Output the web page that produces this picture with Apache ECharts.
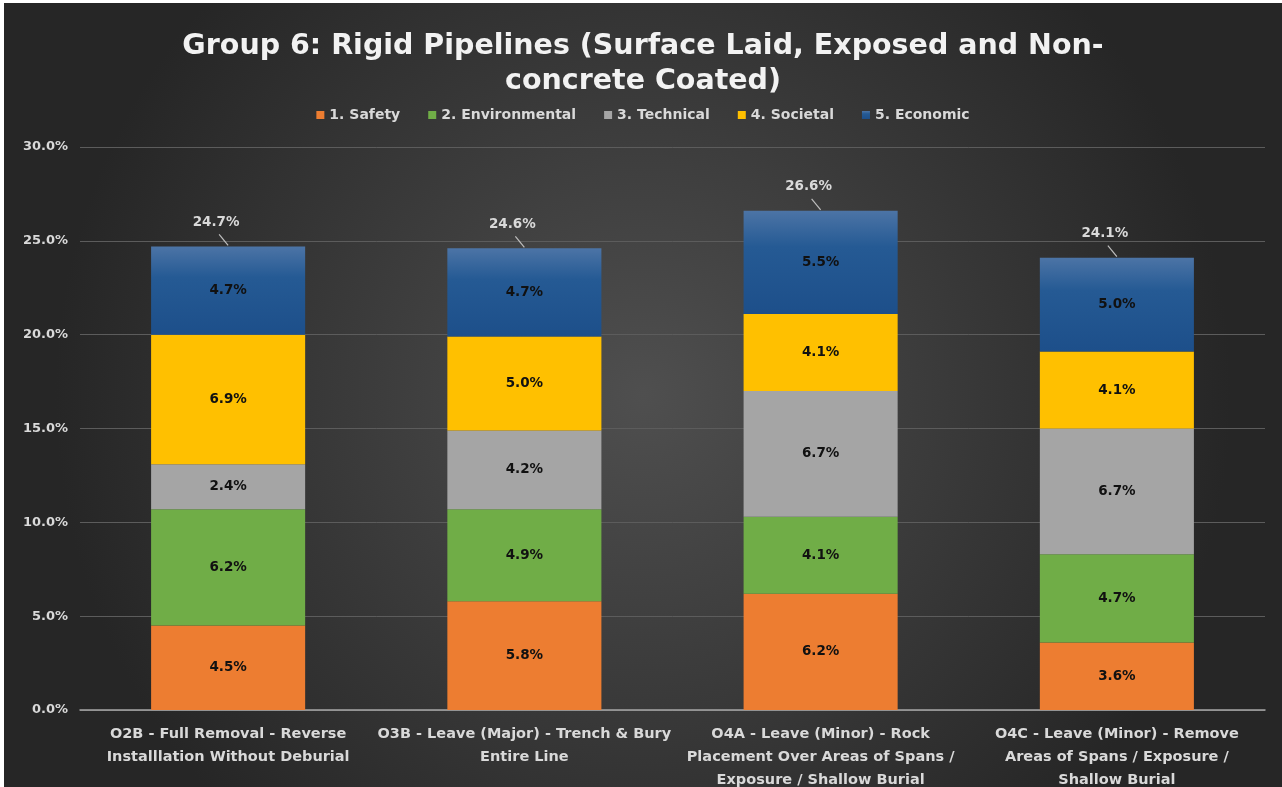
<!DOCTYPE html>
<html>
<head>
<meta charset="utf-8">
<script src="https://cdn.jsdelivr.net/npm/echarts@6/dist/echarts.min.js"></script>
<style>
  html, body { margin: 0; padding: 0; background: #ffffff; }
  #chart { position: absolute; left: 4px; top: 3px; width: 1278px; height: 784px; }
</style>
</head>
<body>
<div id="chart"></div>
<script>
// Options shown on the x axis (line breaks as laid out under each bar)
const categories = [
  'O2B - Full Removal - Reverse\nInstalllation Without Deburial',
  'O3B - Leave (Major) - Trench & Bury\nEntire Line',
  'O4A - Leave (Minor) - Rock\nPlacement Over Areas of Spans /\nExposure / Shallow Burial',
  'O4C - Leave (Minor) - Remove\nAreas of Spans / Exposure /\nShallow Burial'
];

// Weighted scores per criterion (%)
const safety        = [4.5, 5.8, 6.2, 3.6];
const environmental = [6.2, 4.9, 4.1, 4.7];
const technical     = [2.4, 4.2, 6.7, 6.7];
const societal      = [6.9, 5.0, 4.1, 4.1];
const economic      = [4.7, 4.7, 5.5, 5.0];

const seriesNames = ['1. Safety', '2. Environmental', '3. Technical', '4. Societal', '5. Economic'];
const yTicks = [0, 5, 10, 15, 20, 25, 30];

const FONT = 'DejaVu Sans';
const palette = ['#ED7D31', '#70AD47', '#A5A5A5', '#FFC000', '#2A5E96'];

const blueFill = {
  type: 'linear', x: 0, y: 0, x2: 0, y2: 1,
  colorStops: [
    { offset: 0, color: '#4C74A6' },
    { offset: 0.35, color: '#255A94' },
    { offset: 1, color: '#1D4F8A' }
  ]
};

const stacks = [safety, environmental, technical, societal, economic];
const totals = categories.map((_, i) =>
  Math.round(stacks.reduce((s, arr) => s + arr[i], 0) * 10) / 10);

const barSeries = stacks.map((vals, k) => ({
  name: seriesNames[k],
  type: 'bar',
  stack: 'score',
  barWidth: '52%',
  data: vals,
  itemStyle: { color: k === 4 ? blueFill : palette[k] },
  label: {
    show: true,
    position: 'inside',
    formatter: p => p.value.toFixed(1) + '%',
    color: '#111111',
    fontFamily: FONT,
    fontWeight: 'bold',
    fontSize: 13.5
  },
  emphasis: { disabled: true }
}));

// Total above each stack with a short leader line
const totalSeries = {
  name: 'Total',
  type: 'custom',
  data: totals.map((t, i) => [i, t]),
  z: 10,
  renderItem: (params, api) => {
    const p = api.coord([api.value(0), api.value(1)]);
    const tx = p[0] - 12, ty = p[1] - 24;
    return {
      type: 'group',
      children: [
        {
          type: 'line',
          shape: { x1: p[0], y1: p[1] - 1, x2: p[0] - 9, y2: p[1] - 12 },
          style: { stroke: '#bfbfbf', lineWidth: 1.2 }
        },
        {
          type: 'text',
          x: tx, y: ty,
          style: {
            text: api.value(1).toFixed(1) + '%',
            fill: '#d9d9d9',
            font: 'bold 13.5px "' + FONT + '"',
            align: 'center',
            verticalAlign: 'middle'
          }
        }
      ]
    };
  }
};

const chart = echarts.init(document.getElementById('chart'));
chart.setOption({
  backgroundColor: {
    type: 'radial', x: 0.5, y: 0.5, r: 0.75,
    colorStops: [
      { offset: 0, color: '#4f4f4f' },
      { offset: 1, color: '#262626' }
    ]
  },
  animation: false,
  title: {
    text: 'Group 6: Rigid Pipelines (Surface Laid, Exposed and Non-\nconcrete Coated)',
    left: 'center',
    top: 21,
    textStyle: {
      color: '#f2f2f2',
      fontFamily: FONT,
      fontWeight: 'bold',
      fontSize: 28.5,
      lineHeight: 35
    }
  },
  legend: {
    data: seriesNames,
    top: 100,
    left: 'center',
    itemWidth: 8,
    itemHeight: 8,
    itemGap: 28,
    icon: 'rect',
    textStyle: { color: '#d9d9d9', fontFamily: FONT, fontWeight: 'bold', fontSize: 14 }
  },
  grid: {
    left: 76, right: 17, top: 144, bottom: 77,
    containLabel: false,
    outerBoundsMode: 'none'
  },
  xAxis: {
    type: 'category',
    data: categories,
    axisTick: { show: false },
    axisLine: { lineStyle: { color: '#a6a6a6', width: 1.5 } },
    axisLabel: {
      color: '#d9d9d9',
      fontFamily: FONT,
      fontWeight: 'bold',
      fontSize: 14.5,
      lineHeight: 23,
      margin: 13,
      interval: 0,
      align: 'center'
    }
  },
  yAxis: {
    type: 'value',
    min: yTicks[0],
    max: yTicks[yTicks.length - 1],
    interval: yTicks[1] - yTicks[0],
    axisLine: { show: false },
    axisTick: { show: false },
    splitLine: { lineStyle: { color: '#5c5c5c', width: 1 } },
    axisLabel: {
      color: '#d9d9d9',
      fontFamily: FONT,
      fontWeight: 'bold',
      fontSize: 13,
      margin: 12,
      formatter: v => v.toFixed(1) + '%'
    }
  },
  series: [...barSeries, totalSeries]
});
</script>
</body>
</html>
